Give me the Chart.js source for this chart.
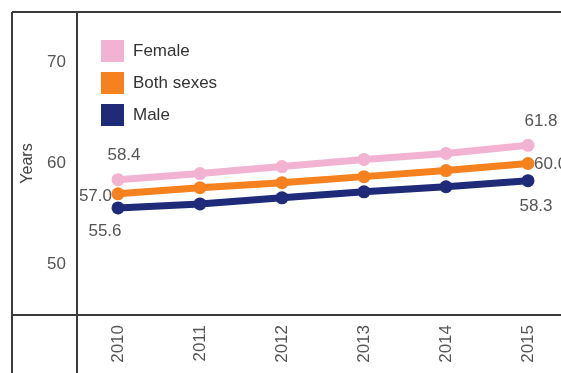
<!DOCTYPE html>
<html>
<head>
<meta charset="utf-8">
<script src="https://cdn.jsdelivr.net/npm/chart.js@4/dist/chart.umd.min.js"></script>
<style>
  html, body { margin: 0; padding: 0; overflow: hidden; background: #fff; width: 561px; height: 373px; }
  #wrap { position: relative; width: 600px; height: 400px; }
</style>
</head>
<body>
<div id="wrap"><canvas id="c" width="600" height="400"></canvas></div>
<script>
// Life expectancy at birth, years
const years = ['2010', '2011', '2012', '2013', '2014', '2015'];
const female = [58.4, 59.0, 59.7, 60.4, 61.0, 61.8];
const bothSexes = [57.0, 57.6, 58.1, 58.7, 59.3, 60.0];
const male = [55.6, 56.0, 56.6, 57.2, 57.7, 58.3];
const yTicks = [50, 60, 70];
const seriesNames = ['Female', 'Both sexes', 'Male'];
const seriesColors = ['#f2b3d3', '#f5821f', '#1f2a78'];

const FONT = "'Liberation Sans', Arial, sans-serif";
Chart.defaults.font.family = FONT;

// Offsets for the value labels on the first and last point of each series
const labelPlacement = [
  { first: { dx: 6, dy: -24, align: 'center' }, last: { dx: 13, dy: -24, align: 'center' } },
  { first: { dx: -6, dy: 3, align: 'right' },   last: { dx: 6, dy: 1, align: 'left' } },
  { first: { dx: -13, dy: 23, align: 'center' }, last: { dx: 8, dy: 26, align: 'center' } }
];

const framePlugin = {
  id: 'frame',
  afterDraw(chart) {
    const { ctx, chartArea } = chart;
    ctx.save();
    ctx.strokeStyle = '#3a3a3a';
    ctx.lineWidth = 2;
    ctx.beginPath();
    // outer top and left edges
    ctx.moveTo(12, chartArea.top); ctx.lineTo(chart.width, chartArea.top);
    ctx.moveTo(12, chartArea.top); ctx.lineTo(12, chart.height);
    // separator between the axis column and the plot
    ctx.moveTo(chartArea.left, chartArea.top); ctx.lineTo(chartArea.left, chart.height);
    // separator between the plot and the year row
    ctx.moveTo(12, chartArea.bottom); ctx.lineTo(chart.width, chartArea.bottom);
    ctx.stroke();
    ctx.restore();
  }
};

const legendPlugin = {
  id: 'boxLegend',
  afterDraw(chart) {
    const { ctx } = chart;
    ctx.save();
    ctx.font = '17px ' + FONT;
    ctx.textBaseline = 'middle';
    ctx.textAlign = 'left';
    chart.data.datasets.forEach((ds, i) => {
      const y = 40 + i * 32;
      ctx.fillStyle = ds.borderColor;
      ctx.fillRect(101, y, 23, 22);
      ctx.fillStyle = '#333';
      ctx.fillText(ds.label, 133, y + 11);
    });
    ctx.restore();
  }
};

const valueLabelPlugin = {
  id: 'valueLabels',
  afterDatasetsDraw(chart) {
    const { ctx } = chart;
    ctx.save();
    ctx.font = '17px ' + FONT;
    ctx.fillStyle = '#555';
    ctx.textBaseline = 'middle';
    chart.data.datasets.forEach((ds, i) => {
      const meta = chart.getDatasetMeta(i);
      const n = ds.data.length;
      [['first', 0], ['last', n - 1]].forEach(([key, idx]) => {
        const p = meta.data[idx];
        const o = labelPlacement[i][key];
        ctx.textAlign = o.align;
        ctx.fillText(ds.data[idx].toFixed(1), p.x + o.dx, p.y + o.dy);
      });
    });
    ctx.restore();
  }
};

const series = [female, bothSexes, male];

new Chart(document.getElementById('c'), {
  type: 'line',
  data: {
    labels: years,
    datasets: series.map((vals, i) => ({
      label: seriesNames[i],
      data: vals,
      borderColor: seriesColors[i],
      backgroundColor: seriesColors[i],
      borderWidth: 7,
      pointRadius: 6.5,
      pointBorderWidth: 0,
      pointBackgroundColor: seriesColors[i],
      fill: false,
      tension: 0
    }))
  },
  options: {
    responsive: false,
    animation: false,
    devicePixelRatio: 1,
    layout: { padding: { top: 12, right: 31, left: 0, bottom: 0 } },
    plugins: { legend: { display: false }, tooltip: { enabled: false } },
    scales: {
      x: {
        offset: true,
        grid: { display: false, drawTicks: false },
        border: { display: false },
        ticks: { minRotation: 90, maxRotation: 90, padding: 10, color: '#555', font: { size: 17 } },
        afterFit(scale) { scale.height = 85; scale.paddingLeft = 0; scale.paddingRight = 0; }
      },
      y: {
        min: 45,
        max: 75,
        grid: { display: false, drawTicks: false },
        border: { display: false },
        afterBuildTicks(scale) { scale.ticks = yTicks.map(v => ({ value: v })); },
        ticks: { padding: 11, color: '#555', font: { size: 17 } },
        title: { display: true, text: 'Years', color: '#444', font: { size: 16 }, padding: { top: 18, bottom: 0 } },
        afterFit(scale) { scale.width = 77; scale.paddingTop = 0; scale.paddingBottom = 0; }
      }
    }
  },
  plugins: [framePlugin, legendPlugin, valueLabelPlugin]
});
</script>
</body>
</html>
